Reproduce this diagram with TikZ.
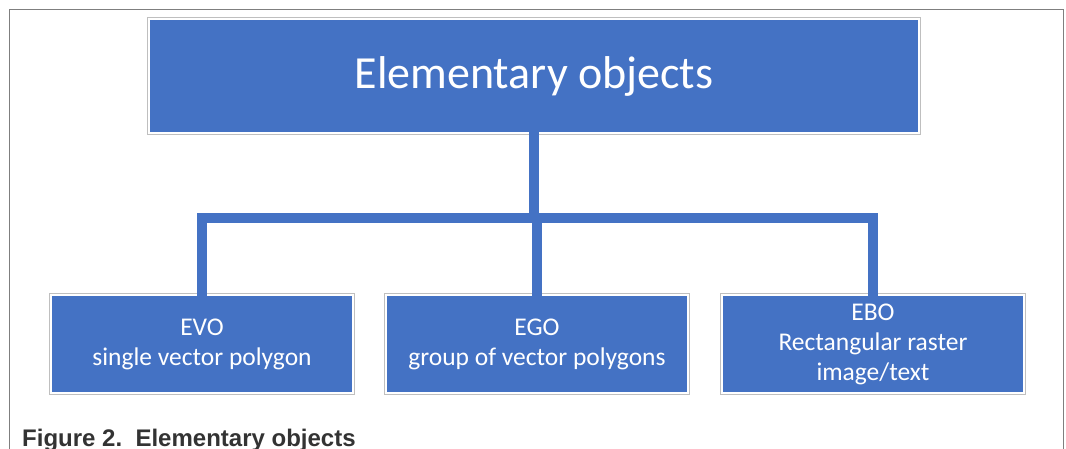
\documentclass[tikz,border=0pt]{standalone}
\usepackage{fontspec}
\setmainfont{Carlito}
\newfontfamily\capfont{Liberation Sans}
\definecolor{obl}{HTML}{4472C4}
\definecolor{frm}{HTML}{7F7F7F}
\definecolor{capc}{HTML}{333333}
\tikzset{
  blk/.style={fill=obl, draw=none, text=white, align=center, inner sep=0pt},
  smallblk/.style={blk, minimum width=300pt, minimum height=96pt, font=\fontsize{25.5}{30}\selectfont},
  conn/.style={draw=obl, line width=10pt, line join=miter},
  rim/.style={draw=black!25, line width=0.8pt}
}
\begin{document}
\begin{tikzpicture}[x=1pt,y=-1pt]
\useasboundingbox (0,0) rectangle (1066,449);
% frame
\draw[frm, line width=1pt] (9,449) -- (9,10) -- (1063,10) -- (1063,449);
% boxes
\node[blk, minimum width=768pt, minimum height=112pt, font=\fontsize{46}{52}\selectfont] (top) at (534,76) {Elementary objects};
\node[smallblk] (evo) at (202,344) {EVO\\single vector polygon};
\node[smallblk] (ego) at (537,344) {EGO\\group of vector polygons};
\node[smallblk] (ebo) at (873,344) {EBO\\Rectangular raster\\image/text};
\foreach \n in {top,evo,ego,ebo}{
  \draw[rim] ([shift={(-2.5pt,2.5pt)}]\n.north west) rectangle ([shift={(2.5pt,-2.5pt)}]\n.south east);
}
% connectors
\coordinate (bus) at (534,218);
\draw[conn] (top.south) -- (top.south |- bus);
\draw[conn] (evo.north) |- (top.south |- bus);
\draw[conn] (ebo.north) |- (top.south |- bus);
\draw[conn] (ego.north) -- (ego.north |- bus);
% caption
\node[anchor=base west, inner sep=0pt, text=capc, font=\capfont\bfseries\fontsize{24}{28}\selectfont] (cap) at (22,446) {Figure 2.\ \ Elementary objects};
\end{tikzpicture}
\end{document}
